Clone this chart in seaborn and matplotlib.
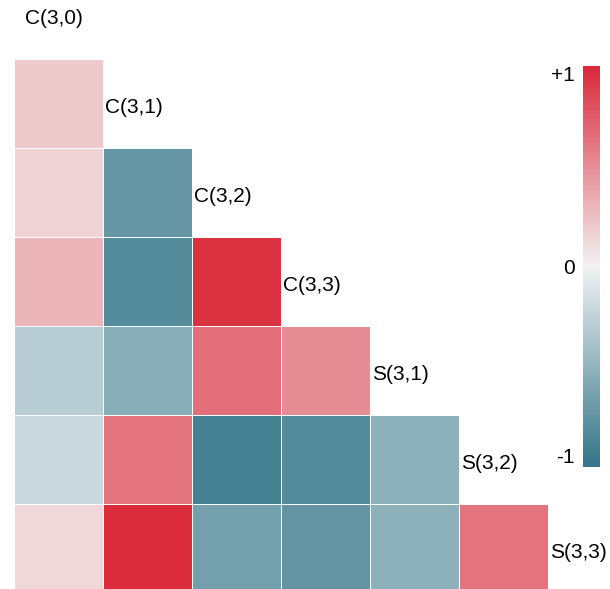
import numpy as np
import pandas as pd
import seaborn as sns
from matplotlib import pyplot as plt
from matplotlib.colors import ListedColormap

# Variabili della matrice di correlazione
labels = ["C(3,0)", "C(3,1)", "C(3,2)", "C(3,3)", "S(3,1)", "S(3,2)", "S(3,3)"]

# Triangolo inferiore, riga per riga (valori stimati dalla figura)
r_c31 = [0.20]
r_c32 = [0.15, -0.72]
r_c33 = [0.30, -0.82, 0.95]
r_s31 = [-0.30, -0.55, 0.65, 0.50]
r_s32 = [-0.20, 0.62, -0.90, -0.82, -0.52]
r_s33 = [0.13, 0.98, -0.65, -0.75, -0.52, 0.62]
rows = [r_c31, r_c32, r_c33, r_s31, r_s32, r_s33]

n = len(rows)
mat = np.full((n, n), np.nan)
for i, r in enumerate(rows):
    mat[i, :len(r)] = r
df = pd.DataFrame(mat, index=labels[1:], columns=labels[:-1])
mask = np.isnan(mat)

sns.set_style("white")
plt.rcParams["font.family"] = ["Liberation Sans", "DejaVu Sans"]

fig = plt.figure(figsize=(6.1, 5.89), dpi=100)
ax = fig.add_axes([0.023, -0.0068, 0.8754, 0.9066])
cax = fig.add_axes([0.9557, 0.2071, 0.0279, 0.6808])

# Metà blu più spenta, metà rossa più satura
blue_half = sns.diverging_palette(220, 10, s=80, l=46, n=256)[:128]
red_half = sns.diverging_palette(220, 10, s=86, l=48, n=256)[128:]
cmap = ListedColormap(list(blue_half) + list(red_half))

sns.heatmap(df, mask=mask, cmap=cmap, vmin=-1, vmax=1, center=0,
            linewidths=0.6, linecolor="white", square=False,
            ax=ax, cbar_ax=cax, xticklabels=False, yticklabels=False)
ax.set_xlabel("")
ax.set_ylabel("")

# Etichette sulla diagonale
ax.text(0.12, -0.46, labels[0], fontsize=15, color="black",
        ha="left", va="center", clip_on=False)
for i in range(n):
    ax.text(i + 1.02, i + 0.55, labels[i + 1], fontsize=15, color="black",
            ha="left", va="center", clip_on=False)

# Barra dei colori
cbar = ax.collections[0].colorbar
cbar.set_ticks([-1, 0, 1])
cbar.set_ticklabels(["-1", "0", "+1"])
cax.yaxis.set_ticks_position("left")
cax.tick_params(length=0, labelsize=15, pad=6, labelcolor="black")
tl = cax.get_yticklabels()
tl[0].set_va("bottom")
tl[2].set_va("top")
cbar.outline.set_visible(False)

fig.savefig("out.png", dpi=100)
